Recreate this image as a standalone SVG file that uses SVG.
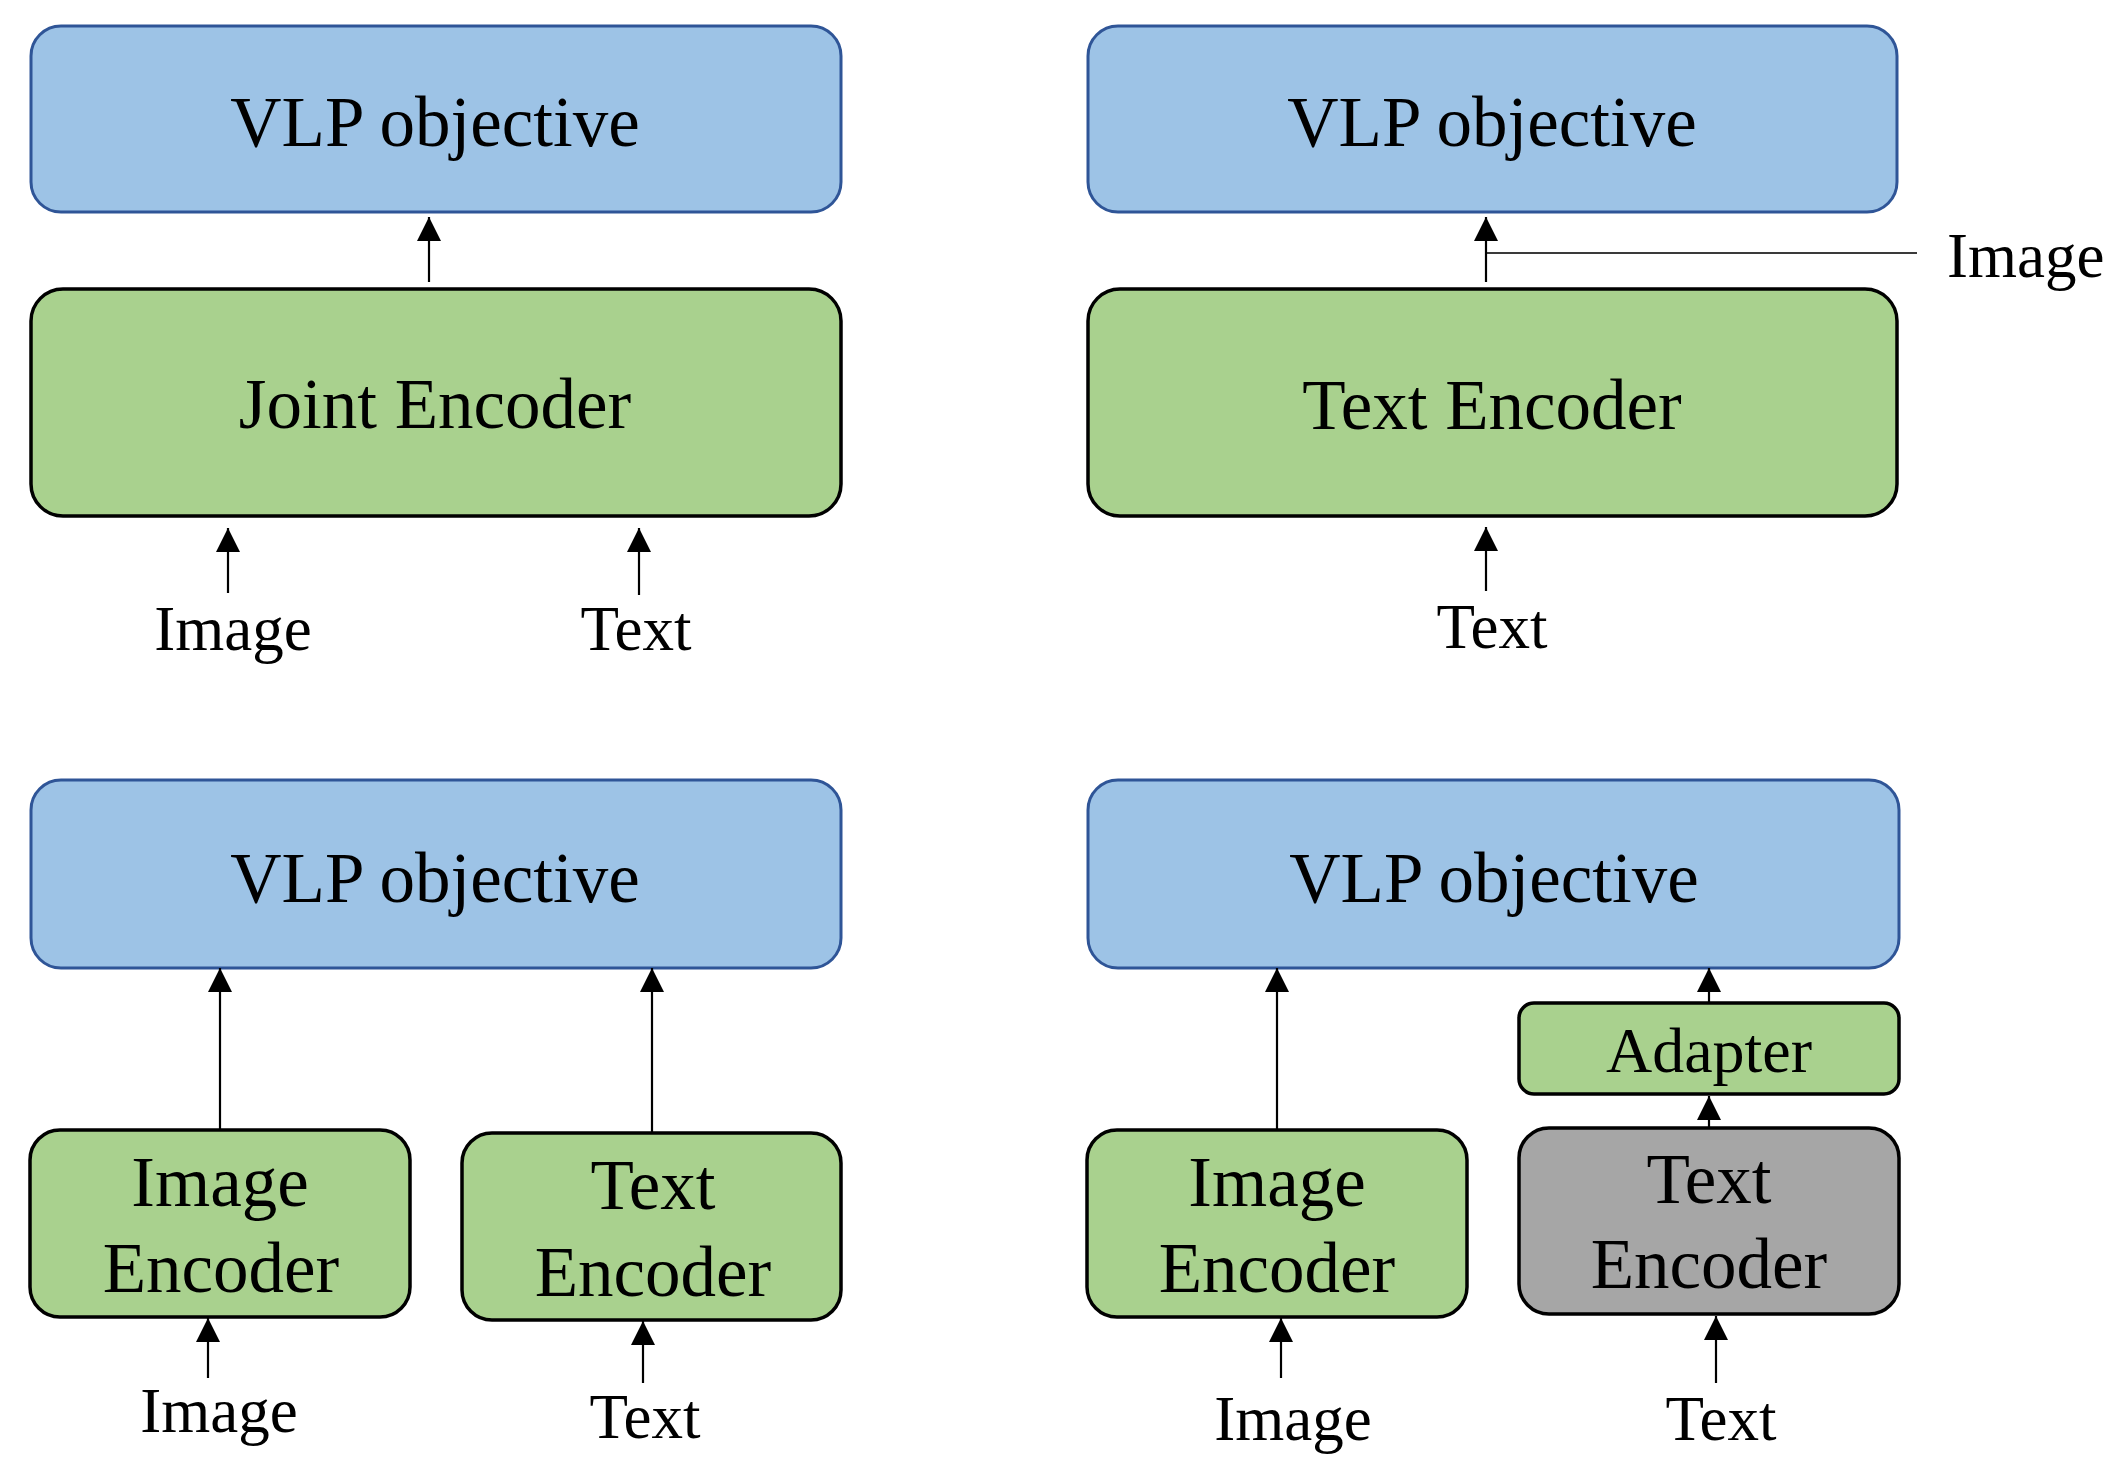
<svg xmlns="http://www.w3.org/2000/svg" width="2113" height="1459" viewBox="0 0 2113 1459">
<defs>
<style>
.blue{fill:#9DC3E6;stroke:#2F5597;stroke-width:3}
.green{fill:#A9D18E;stroke:#000;stroke-width:3.5}
.gray{fill:#A6A6A6;stroke:#000;stroke-width:3.5}
text{font-family:"Liberation Serif","Times New Roman",serif;fill:#000;text-anchor:middle}
.big{font-size:71px}
.lbl{font-size:63px}
.ad{font-size:64px}
.arr{stroke:#000;stroke-width:2.2;fill:none;marker-end:url(#ah)}
.thin{stroke:#3a3a3a;stroke-width:1.8;fill:none}
</style>
<marker id="ah" markerUnits="userSpaceOnUse" markerWidth="24" markerHeight="24" viewBox="0 0 24 24" refX="24" refY="12" orient="auto"><path d="M0,0 L24,12 L0,24 z" fill="#000"/></marker>
</defs>
<rect width="2113" height="1459" fill="#fff"/>

<!-- Top-left panel -->
<g id="tl-vlp"><rect class="blue" x="31" y="26" width="810" height="186" rx="30"/><text class="big" x="435" y="146">VLP objective</text></g>
<g id="tl-joint"><rect class="green" x="31" y="289" width="810" height="227" rx="32"/><text class="big" x="435" y="428">Joint Encoder</text></g>
<g id="tl-image-lbl"><text class="lbl" x="233" y="650">Image</text></g>
<g id="tl-text-lbl"><text class="lbl" x="636" y="650">Text</text></g>

<!-- Top-right panel -->
<g id="tr-vlp"><rect class="blue" x="1088" y="26" width="809" height="186" rx="30"/><text class="big" x="1492" y="146">VLP objective</text></g>
<g id="tr-textenc"><rect class="green" x="1088" y="289" width="809" height="227" rx="32"/><text class="big" x="1492" y="429">Text Encoder</text></g>
<g id="tr-image-lbl"><text class="lbl" x="1947" y="277" style="text-anchor:start">Image</text></g>
<g id="tr-text-lbl"><text class="lbl" x="1492" y="648">Text</text></g>

<!-- Bottom-left panel -->
<g id="bl-vlp"><rect class="blue" x="31" y="780" width="810" height="188" rx="30"/><text class="big" x="435" y="902">VLP objective</text></g>
<g id="bl-imgenc"><rect class="green" x="30" y="1130" width="380" height="187" rx="30"/><text class="big" x="220" y="1206">Image</text><text class="big" x="221" y="1292">Encoder</text></g>
<g id="bl-textenc"><rect class="green" x="462" y="1133" width="379" height="187" rx="30"/><text class="big" x="653" y="1209">Text</text><text class="big" x="653" y="1296">Encoder</text></g>
<g id="bl-image-lbl"><text class="lbl" x="219" y="1432">Image</text></g>
<g id="bl-text-lbl"><text class="lbl" x="645" y="1438">Text</text></g>

<!-- Bottom-right panel -->
<g id="br-vlp"><rect class="blue" x="1088" y="780" width="811" height="188" rx="30"/><text class="big" x="1494" y="902">VLP objective</text></g>
<g id="br-imgenc"><rect class="green" x="1087" y="1130" width="380" height="187" rx="30"/><text class="big" x="1277" y="1206">Image</text><text class="big" x="1277" y="1292">Encoder</text></g>
<g id="br-adapter"><rect class="green" x="1519" y="1003" width="380" height="91" rx="15"/><text class="ad" x="1709" y="1072">Adapter</text></g>
<g id="br-textenc"><rect class="gray" x="1519" y="1128" width="380" height="186" rx="30"/><text class="big" x="1709" y="1203">Text</text><text class="big" x="1709" y="1288">Encoder</text></g>
<g id="br-image-lbl"><text class="lbl" x="1293" y="1440">Image</text></g>
<g id="br-text-lbl"><text class="lbl" x="1721" y="1440">Text</text></g>

<!-- Connectors -->
<g id="connectors">
<line class="arr" x1="429" y1="282" x2="429" y2="217"/>
<line class="arr" x1="228" y1="593" x2="228" y2="528"/>
<line class="arr" x1="639" y1="595" x2="639" y2="528"/>
<line class="thin" x1="1917" y1="253" x2="1486" y2="253"/>
<line class="arr" x1="1486" y1="282" x2="1486" y2="217"/>
<line class="arr" x1="1486" y1="591" x2="1486" y2="527"/>
<line class="arr" x1="220" y1="1130" x2="220" y2="968"/>
<line class="arr" x1="652" y1="1133" x2="652" y2="968"/>
<line class="arr" x1="208" y1="1378" x2="208" y2="1318"/>
<line class="arr" x1="643" y1="1383" x2="643" y2="1321"/>
<line class="arr" x1="1277" y1="1130" x2="1277" y2="968"/>
<line class="arr" x1="1709" y1="1003" x2="1709" y2="968"/>
<line class="arr" x1="1709" y1="1128" x2="1709" y2="1096"/>
<line class="arr" x1="1281" y1="1378" x2="1281" y2="1318"/>
<line class="arr" x1="1716" y1="1383" x2="1716" y2="1316"/>
</g>
</svg>
